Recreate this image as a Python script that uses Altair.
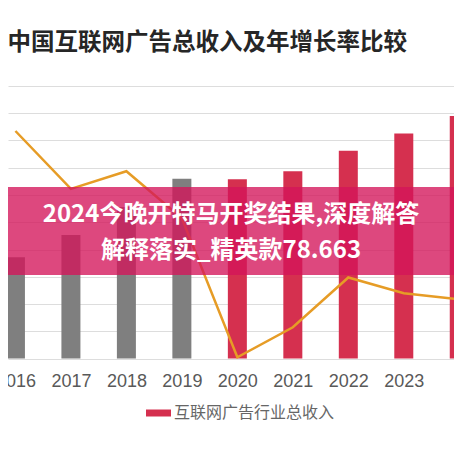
import altair as alt
import pandas as pd

# ---- data ----
years = [2016, 2017, 2018, 2019, 2020, 2021, 2022, 2023, 2024]
revenue = [37.2, 45.3, 55.6, 66.0, 65.8, 68.7, 76.2, 82.6, 89.0]      # relative units (grid = 10)
growth = [33.4, 24.9, 27.5, 20.6, 0.2, 4.6, 11.9, 9.6, 8.7]            # %
series = ["往年", "往年", "往年", "往年",
          "互联网广告行业总收入", "互联网广告行业总收入", "互联网广告行业总收入",
          "互联网广告行业总收入", "互联网广告行业总收入"]
grid_values = [0, 10, 20, 30, 40, 50, 60, 70, 80, 90, 100]
legend_name = "互联网广告行业总收入"
title_text = "2016-2024年中国互联网广告总收入及年增长率比较"
banner_line1 = "2024今晚开特马开奖结果,深度解答"
banner_line2 = "解释落实_精英款78.663"

W, H = 446, 446

df = pd.DataFrame({"year": years, "revenue": revenue, "growth": growth, "series": series})

xscale = alt.Scale(domain=[2015.956, 2023.815], nice=False, zero=False)
yscale = alt.Scale(domain=[-35.0, 128.6], nice=False, zero=False)
gscale = alt.Scale(domain=[-14.0, 51.45], nice=False, zero=False)

x_axis = alt.Axis(values=years, format="d", title=None, ticks=False, tickSize=0,
                  domain=False, grid=False, labelFont="Liberation Sans",
                  labelFontSize=18, labelColor="#595959", labelPadding=14,
                  offset=-95.4, labelFlush=False, labelOverlap=False, labelBound=False)

bars = alt.Chart(df).mark_bar(width=19, clip=True).encode(
    x=alt.X("year:Q", scale=xscale, axis=x_axis),
    y=alt.Y("revenue:Q", scale=yscale,
            axis=alt.Axis(values=grid_values, title=None, labels=False, ticks=False,
                          domain=False, grid=True, gridColor="#dddddd", gridWidth=1)),
    y2=alt.datum(0),
    color=alt.Color("series:N",
                    scale=alt.Scale(domain=["往年", legend_name],
                                    range=["#7f7f7f", "#d5304f"]),
                    legend=alt.Legend(values=[legend_name], title=None, orient="none",
                                      legendX=138, legendY=392.5,
                                      symbolType="M-1,-0.28L1,-0.28L1,0.28L-1,0.28Z",
                                      symbolSize=625, symbolStrokeWidth=0,
                                      labelFont="Noto Sans CJK SC", labelFontSize=16,
                                      labelColor="#666666", labelOffset=3,
                                      labelLimit=400)),
)

line = alt.Chart(df).mark_line(clip=True, color="#e69c26", strokeWidth=2.5).encode(
    x=alt.X("year:Q", scale=xscale),
    y=alt.Y("growth:Q", scale=gscale, axis=None),
)

one = pd.DataFrame({"t": [title_text]})
title = alt.Chart(one).mark_text(
    align="right", baseline="middle", font="Noto Sans CJK SC", fontSize=23.5,
    fontWeight="bold", color="#262626"
).encode(text="t:N", x=alt.value(399), y=alt.value(34.5))

banner = alt.Chart(one).mark_rect(color="#d4145a", opacity=0.78).encode(
    x=alt.value(0), x2=alt.value(W), y=alt.value(179), y2=alt.value(267)
)

b1 = alt.Chart(pd.DataFrame({"t": [banner_line1]})).mark_text(
    align="center", baseline="middle", font="Noto Sans CJK SC", fontSize=24,
    fontWeight="bold", color="#ffffff"
).encode(text="t:N", x=alt.value(223), y=alt.value(207))

b2 = alt.Chart(pd.DataFrame({"t": [banner_line2]})).mark_text(
    align="center", baseline="middle", font="Noto Sans CJK SC", fontSize=24,
    fontWeight="bold", color="#ffffff"
).encode(text="t:N", x=alt.value(223), y=alt.value(243))

chart = alt.layer(bars, line, title, banner, b1, b2).resolve_scale(
    y="independent"
).properties(
    width=W, height=H, padding=0,
    autosize=alt.AutoSizeParams(type="none"),
    background="#ffffff",
).configure_view(stroke=None)

chart.save("out.html", embed_options={"renderer": "svg", "actions": False})
